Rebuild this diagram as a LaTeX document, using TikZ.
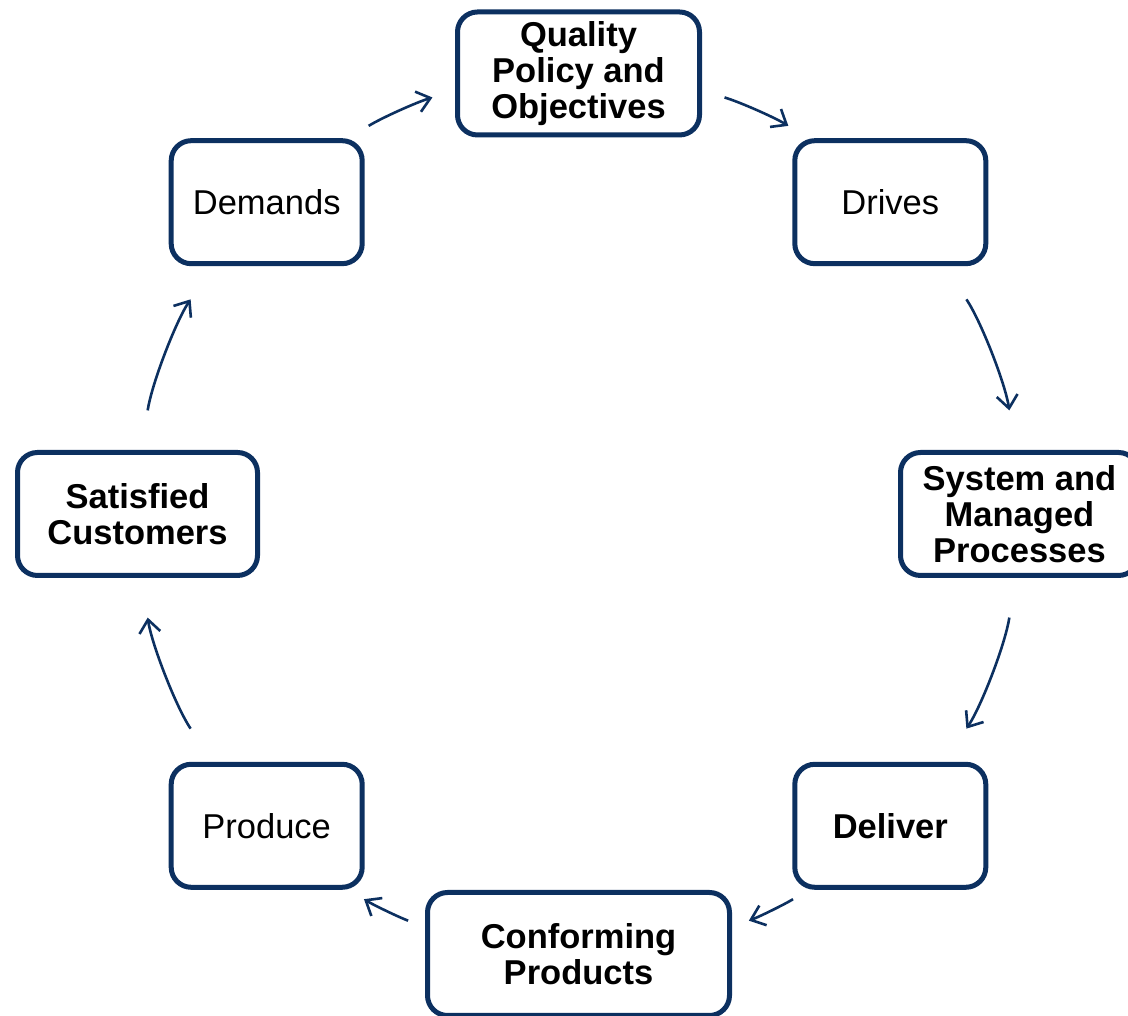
\documentclass[tikz,border=0pt]{standalone}
\usepackage{fontspec}
\setmainfont{Liberation Sans}
\usetikzlibrary{arrows.meta}

\definecolor{navy}{RGB}{12,48,96}

\tikzset{
    box/.style={draw=navy, line width=5pt, rounded corners=20pt, align=center, inner sep=0pt,
        minimum width=191pt, minimum height=123pt, font=\fontsize{34.5}{36}\selectfont},
    bbox/.style={box, font=\fontsize{34.5}{36}\selectfont\bfseries},
    flow/.style={draw=navy, line width=2.6pt, -{Straight Barb[length=13pt,width=21pt]},
        looseness=0.86, shorten <=#1, shorten >=#1}
}

\begin{document}
\begin{tikzpicture}[x=1pt, y=1pt]

    \useasboundingbox (0,0) rectangle (1128,1016);

    \node[bbox, minimum width=242pt] (qpo) at (578.5,942.5) {Quality\\Policy and\\Objectives};
    \node[box] (drv) at (890.3,813.8) {Drives};
    \node[bbox, minimum width=238pt] (sys) at (1019.5,502) {System and\\Managed\\Processes};
    \node[bbox] (dlv) at (890.3,190.2) {Deliver};
    \node[bbox, minimum width=302pt, minimum height=123pt] (cnf) at (578.5,62) {Conforming\\Products};
    \node[box] (prd) at (266.7,190.2) {Produce};
    \node[bbox, minimum width=240pt] (sat) at (137.5,502) {Satisfied\\Customers};
    \node[box] (dem) at (266.7,813.8) {Demands};

    \draw[flow=23.5] (dem.38) to[bend left=7.6] (qpo.188);
    \draw[flow=23.5] (qpo.352) to[bend left=7.6] (drv.142);
    \draw[flow=40] (drv.310) to[bend left=12.9] (sys.94);
    \draw[flow=40] (sys.266) to[bend left=12.9] (dlv.50);
    \draw[flow=18] (dlv.218) to[bend left=5.55] (cnf.10);
    \draw[flow=18] (cnf.170) to[bend left=5.55] (prd.322);
    \draw[flow=40] (prd.130) to[bend left=12.9] (sat.274);
    \draw[flow=40] (sat.86) to[bend left=12.9] (dem.230);

\end{tikzpicture}
\end{document}
